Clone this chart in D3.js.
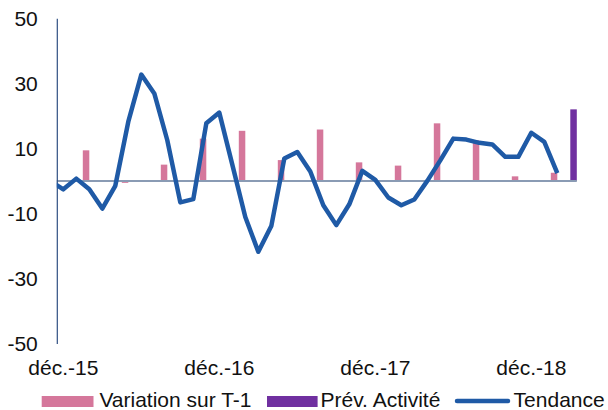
<!DOCTYPE html>
<html>
<head>
<meta charset="utf-8">
<script src="https://cdn.jsdelivr.net/npm/d3@7"></script>
<style>
    body { margin: 0; background: #fff; }
    svg { display: block; }
    text { font-family: "Liberation Sans", Arial, sans-serif; }
</style>
</head>
<body>
<div id="chart"></div>
<script>
// months on the category axis (déc.-15 .. mars-19)
const months = [
    "déc.-15",
    "janv.-16", "févr.-16", "mars-16", "avr.-16", "mai-16", "juin-16",
    "juil.-16", "août-16", "sept.-16", "oct.-16", "nov.-16", "déc.-16",
    "janv.-17", "févr.-17", "mars-17", "avr.-17", "mai-17", "juin-17",
    "juil.-17", "août-17", "sept.-17", "oct.-17", "nov.-17", "déc.-17",
    "janv.-18", "févr.-18", "mars-18", "avr.-18", "mai-18", "juin-18",
    "juil.-18", "août-18", "sept.-18", "oct.-18", "nov.-18", "déc.-18",
    "janv.-19", "févr.-19", "mars-19"
];
// the trend line starts one month before the axis (clipped at the left edge)
const lineMonths = ["nov.-15"].concat(months.slice(0, 39));
const tendance = [
    0,
    -2.6, 0.7, -2.6, -8.5, -1.5, 18.2, 32.7, 26.9, 12.5, -6.6, -5.6, 17.7,
    21.0, 5.0, -11.1, -21.8, -13.9, 6.9, 8.9, 2.9, -7.5, -13.6, -7.2, 3.1,
    0.3, -5.1, -7.5, -5.7, 0, 6.3, 13.0, 12.7, 11.7, 11.2, 7.4, 7.4,
    14.8, 12.0, 2.4
];
const variation = [
    null,
    null, 9.4, null, null, -0.6, null, null, 5.0, null, null, 13.0, null,
    null, 15.4, null, null, 6.4, null, null, 15.8, null, null, 5.7, null,
    null, 4.7, null, null, 17.7, null, null, 12.5, null, null, 1.4, null,
    null, 2.5, null
];
const prevision = [
    null,
    null, null, null, null, null, null, null, null, null, null, null, null,
    null, null, null, null, null, null, null, null, null, null, null, null,
    null, null, null, null, null, null, null, null, null, null, null, null,
    null, null, 22
];
const yTicks = [-50, -30, -10, 10, 30, 50];
const xTickLabels = ["déc.-15", "déc.-16", "déc.-17", "déc.-18"];
const legendLabels = ["Variation sur T-1", "Prév. Activité", "Tendance"];

const W = 608, H = 410;
const plotLeft = 56.8, plotRight = 576.8, plotTop = 18.3, plotBottom = 343.5;
const colors = { variation: "#d5779b", prevision: "#7030a0", line: "#1f5aa6" };

const svg = d3.select("#chart").append("svg")
    .attr("width", W)
    .attr("height", H);

const x = d3.scaleBand()
    .domain(months)
    .range([plotLeft, plotRight]);
const step = x.step();
// same spacing, one extra slot on the left for the clipped line start
const xLine = d3.scaleBand()
    .domain(["nov.-15"].concat(months))
    .range([plotLeft - step, plotRight]);
const xSub = d3.scaleBand()
    .domain(["variation", "prevision"])
    .range([0, x.bandwidth()]);
const y = d3.scaleLinear()
    .domain([-50, 50])
    .range([plotBottom, plotTop]);

svg.append("clipPath").attr("id", "plot")
    .append("rect")
    .attr("x", plotLeft).attr("y", plotTop)
    .attr("width", plotRight - plotLeft).attr("height", plotBottom - plotTop);

// bars
const barData = months.map((m, i) => ({ m, v: variation[i], p: prevision[i] }));
svg.append("g").selectAll("rect")
    .data(barData.filter(d => d.v != null))
    .enter().append("rect")
    .attr("x", d => x(d.m) + xSub("variation"))
    .attr("y", d => y(Math.max(0, d.v)))
    .attr("width", xSub.bandwidth())
    .attr("height", d => Math.abs(y(d.v) - y(0)))
    .attr("fill", colors.variation);

svg.append("g").selectAll("rect")
    .data(barData.filter(d => d.p != null))
    .enter().append("rect")
    .attr("x", d => x(d.m) + xSub("prevision"))
    .attr("y", d => y(Math.max(0, d.p)))
    .attr("width", xSub.bandwidth())
    .attr("height", d => Math.abs(y(d.p) - y(0)))
    .attr("fill", colors.prevision);

// zero line
svg.append("line")
    .attr("x1", plotLeft).attr("x2", plotRight)
    .attr("y1", y(0)).attr("y2", y(0))
    .attr("stroke", "#8a9bb4")
    .attr("stroke-width", 2);

// y axis (plain hyphen for negatives, like the original)
const yAxis = svg.append("g")
    .attr("transform", `translate(${plotLeft},0)`)
    .call(d3.axisLeft(y).tickValues(yTicks).tickSize(0).tickPadding(19)
        .tickFormat(d => String(d)));
yAxis.select(".domain").attr("stroke", "#2e4f82").attr("stroke-width", 1.2);
yAxis.selectAll("text")
    .style("font-size", "21px")
    .attr("fill", "#111");

// x axis labels
const xAxis = svg.append("g")
    .attr("transform", `translate(0,${plotBottom})`)
    .call(d3.axisBottom(x).tickValues(xTickLabels).tickSize(0).tickPadding(16.5));
xAxis.select(".domain").remove();
xAxis.selectAll("text")
    .style("font-size", "21px")
    .attr("fill", "#111");

// trend line
const line = d3.line()
    .x((d, i) => xLine(lineMonths[i]) + xLine.bandwidth() / 2)
    .y(d => y(d));
svg.append("path")
    .datum(tendance)
    .attr("clip-path", "url(#plot)")
    .attr("d", line)
    .attr("fill", "none")
    .attr("stroke", colors.line)
    .attr("stroke-width", 4.5)
    .attr("stroke-linejoin", "round");

// legend
const base = 407;
const legend = svg.append("g");
const items = [
    { label: legendLabels[0], kind: "rect", color: colors.variation, x0: 41.7, x1: 93.5, tx: 99.4 },
    { label: legendLabels[1], kind: "rect", color: colors.prevision, x0: 267, x1: 317.6, tx: 320.5 },
    { label: legendLabels[2], kind: "line", color: colors.line, x0: 455, x1: 510, tx: 513.6 }
];
items.forEach(it => {
    if (it.kind === "rect") {
        legend.append("rect")
            .attr("x", it.x0).attr("y", base - 11)
            .attr("width", it.x1 - it.x0).attr("height", 11)
            .attr("fill", it.color);
    } else {
        legend.append("line")
            .attr("x1", it.x0 + 2).attr("x2", it.x1 - 2)
            .attr("y1", base - 6).attr("y2", base - 6)
            .attr("stroke", it.color)
            .attr("stroke-width", 4.5)
            .attr("stroke-linecap", "round");
    }
    legend.append("text")
        .attr("x", it.tx).attr("y", base)
        .style("font-size", "21px")
        .attr("fill", "#111")
        .text(it.label);
});
</script>
</body>
</html>
